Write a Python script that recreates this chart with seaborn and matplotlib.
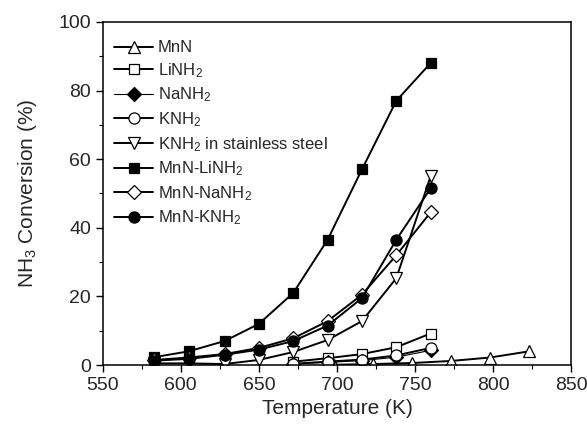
import numpy as np
import pandas as pd
import matplotlib
matplotlib.use("Agg")
import matplotlib.pyplot as plt
import seaborn as sns

# temperatures (K) and NH3 conversion (%)
temp_mix = [583, 605, 628, 650, 672, 694, 716, 738, 760]
temp_low = [672, 694, 716, 738, 760]
temp_mnn = [698, 723, 748, 773, 798, 823]

mnn = [0.1, 0.3, 0.6, 1.2, 2.2, 4.0]
linh2 = [1.0, 2.0, 3.2, 5.2, 9.2]
nanh2 = [0.3, 0.8, 1.3, 2.3, 4.3]
knh2 = [0.4, 1.0, 1.6, 2.8, 5.0]
knh2_steel = [0.5, 0.5, 0.3, 1.5, 3.8, 7.3, 12.8, 25.3, 55.0]
mnn_linh2 = [2.3, 4.0, 7.0, 12.0, 21.0, 36.5, 57.0, 77.0, 88.0]
mnn_nanh2 = [1.5, 2.2, 3.2, 5.0, 7.8, 12.8, 20.5, 32.0, 44.5]
mnn_knh2 = [1.3, 1.8, 3.0, 4.5, 7.0, 11.5, 19.5, 36.5, 51.5]

series = [
    ("MnN", temp_mnn, mnn, "^", "white", 9, 1.4),
    ("LiNH$_2$", temp_low, linh2, "s", "white", 7.5, 1.4),
    ("NaNH$_2$", temp_low, nanh2, "D", "black", 7, 0.8),
    ("KNH$_2$", temp_low, knh2, "o", "white", 8, 1.4),
    ("KNH$_2$ in stainless steel", temp_mix, knh2_steel, "v", "white", 9, 1.4),
    ("MnN-LiNH$_2$", temp_mix, mnn_linh2, "s", "black", 7, 1.4),
    ("MnN-NaNH$_2$", temp_mix, mnn_nanh2, "D", "white", 7, 1.4),
    ("MnN-KNH$_2$", temp_mix, mnn_knh2, "o", "black", 8, 1.4),
]

sns.set_style("ticks")
plt.rcParams["font.family"] = ["Liberation Sans", "DejaVu Sans"]
plt.rcParams["mathtext.default"] = "regular"

fig = plt.figure(figsize=(5.87, 4.29), dpi=100)
ax = fig.add_axes([0.175, 0.149, 0.798, 0.80])

for name, t, v, mk, fc, ms, lw in series:
    df = pd.DataFrame({"T": t, "conv": v})
    sns.lineplot(data=df, x="T", y="conv", ax=ax, marker=mk, markersize=ms,
                 markerfacecolor=fc, markeredgecolor="black", markeredgewidth=0.9,
                 color="black", linewidth=lw, label=name)

ax.set_xlim(550, 850)
ax.set_ylim(0, 100)
ax.set_xticks(np.arange(550, 851, 50))
ax.set_xticks(np.arange(575, 850, 50), minor=True)
ax.set_yticks(np.arange(0, 101, 20))
ax.set_yticks(np.arange(10, 100, 20), minor=True)
ax.tick_params(which="major", direction="out", length=5, width=1, labelsize=14, color="black")
ax.tick_params(which="minor", direction="out", length=3, width=0.8, color="black")
for s in ax.spines.values():
    s.set_linewidth(1.1)
    s.set_color("black")
    s.set_visible(True)

ax.set_xlabel("Temperature (K)", fontsize=15, labelpad=4)
ax.set_ylabel("NH$_3$ Conversion (%)", fontsize=15, labelpad=14)

ax.legend(loc="upper left", frameon=False, fontsize=12, handlelength=2.3,
          handletextpad=0.3, labelspacing=0.35, borderaxespad=0.3,
          bbox_to_anchor=(0.0, 0.98))

fig.savefig("out.png", dpi=100)
